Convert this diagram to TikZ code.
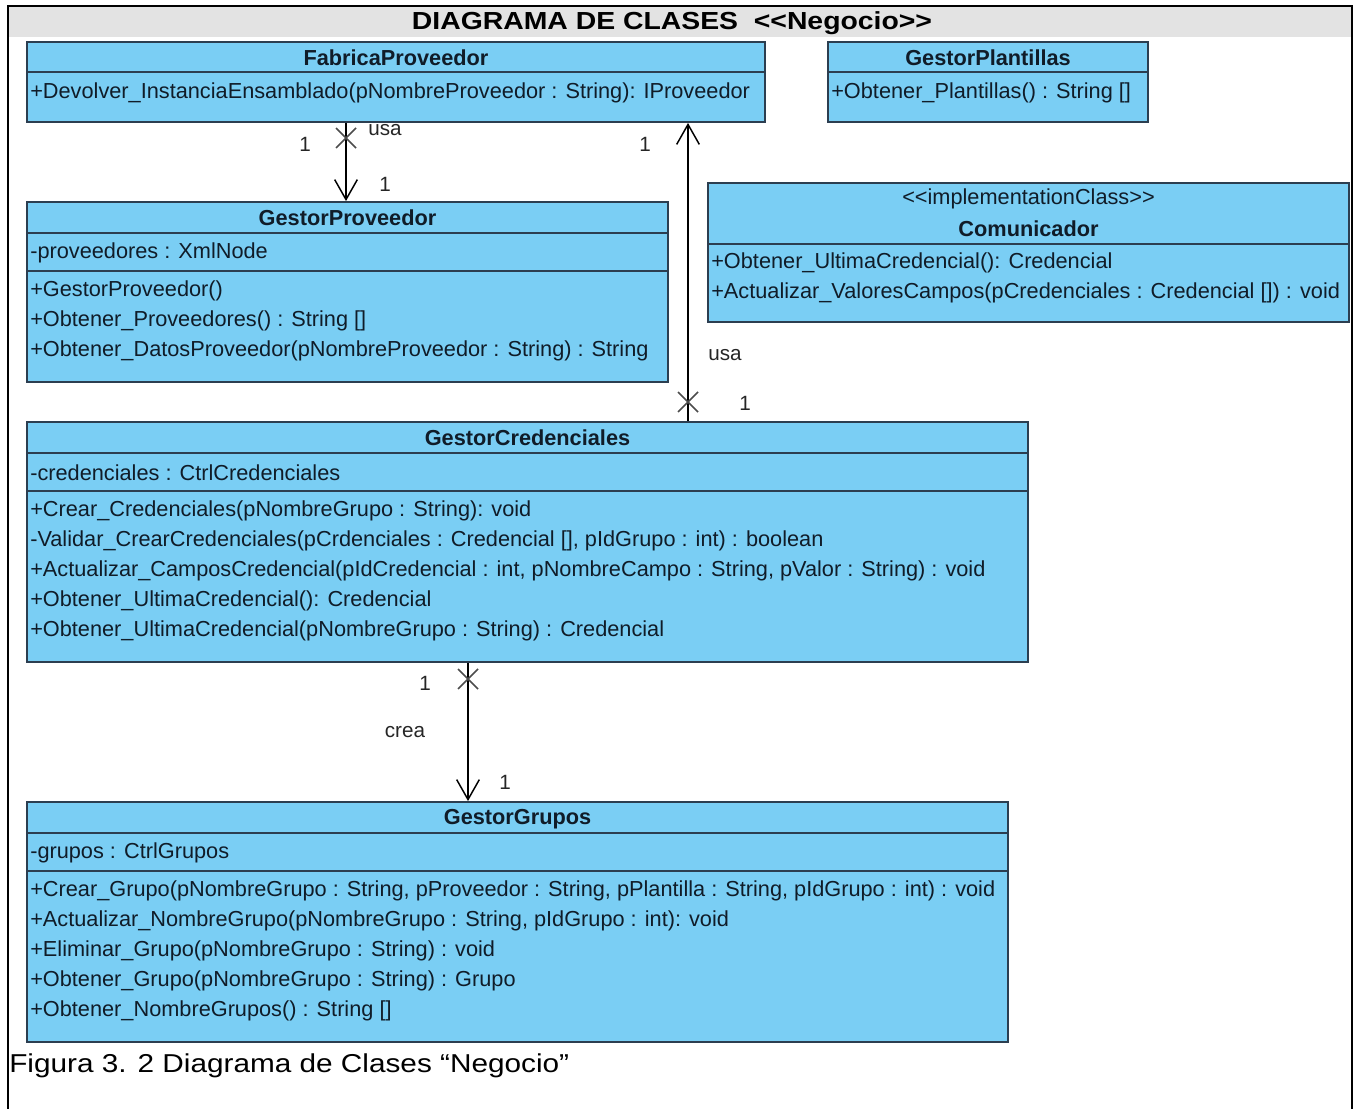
\documentclass[tikz,border=0pt]{standalone}
\usepackage{fontspec}
\newfontfamily\umlfont{Liberation Sans}
\newfontfamily\docfont{Liberation Sans}[FakeStretch=1.15]
\usetikzlibrary{arrows.meta,fit}

\definecolor{clsfill}{HTML}{7ACEF4}
\definecolor{clsline}{HTML}{2C3E50}
\definecolor{band}{HTML}{E3E3E3}
\definecolor{txt}{HTML}{101C28}

\tikzset{
  cls/.style={draw=clsline, line width=1.4pt, fill=clsfill, inner sep=0pt},
  divider/.style={draw=clsline, line width=1.4pt},
  member/.style={anchor=west, inner sep=0pt, text=txt,
    font=\umlfont\fontsize{16.3}{18}\selectfont},
  cname/.style={inner sep=0pt, text=txt,
    font=\umlfont\bfseries\fontsize{16.3}{18}\selectfont},
  stereo/.style={inner sep=0pt, text=txt,
    font=\umlfont\fontsize{16.3}{18}\selectfont},
  mult/.style={inner sep=0pt, text=black!85,
    font=\umlfont\fontsize{15.5}{17}\selectfont},
  assoc/.style={line width=1.1pt, -{Straight Barb[length=15pt,width=17pt,line width=1.1pt]}},
  assocrev/.style={line width=1.1pt, {Straight Barb[length=15pt,width=17pt,line width=1.1pt]}-},
  xmark/.style={line width=1.1pt, draw=black!70},
}

\begin{document}
\begin{tikzpicture}[x=0.75pt, y=-0.75pt]
  \useasboundingbox (0,0) rectangle (1359,1109);

  % page frame and heading band
  \fill[band] (9,7) rectangle (1351,37);
  \draw[line width=1.9pt] (8,1130) -- (8,6) -- (1352,6) -- (1352,1130);
  \node[inner sep=0pt, font=\docfont\bfseries\fontsize{18.5}{20}\selectfont] (title)
    at (672,23) {DIAGRAMA DE CLASES \ <<Negocio>>};

  % ---------- FabricaProveedor ----------
  \node[cls, fit={(27,42) (765,122)}] (fab) {};
  \draw[divider] (fab.west |- 0,72) -- (fab.east |- 0,72);
  \node[cname] (fab-n) at (fab.center |- 0,58) {FabricaProveedor};
  \node[member] (fab-m1) at (30,93)
    {+Devolver\_InstanciaEnsamblado(pNombreProveedor : String): IProveedor};

  % ---------- GestorPlantillas ----------
  \node[cls, fit={(828,42) (1148,122)}] (gpla) {};
  \draw[divider] (gpla.west |- 0,72) -- (gpla.east |- 0,72);
  \node[cname] (gpla-n) at (gpla.center |- 0,58) {GestorPlantillas};
  \node[member] (gpla-m1) at (831,93) {+Obtener\_Plantillas() : String []};

  % ---------- Comunicador ----------
  \node[cls, fit={(708,183) (1349,322)}] (com) {};
  \draw[divider] (com.west |- 0,244) -- (com.east |- 0,244);
  \node[stereo] (com-s) at (com.center |- 0,199) {<<implementationClass>>};
  \node[cname] (com-n) at (com.center |- 0,229) {Comunicador};
  \node[member] (com-m1) at (711,263) {+Obtener\_UltimaCredencial(): Credencial};
  \node[member] (com-m2) at (711,293)
    {+Actualizar\_ValoresCampos(pCredenciales : Credencial []) : void};

  % ---------- GestorProveedor ----------
  \node[cls, fit={(27,202) (668,382)}] (gprov) {};
  \draw[divider] (gprov.west |- 0,233) -- (gprov.east |- 0,233);
  \draw[divider] (gprov.west |- 0,271) -- (gprov.east |- 0,271);
  \node[cname] (gprov-n) at (gprov.center |- 0,218) {GestorProveedor};
  \node[member] (gprov-a1) at (30,253) {-proveedores : XmlNode};
  \node[member] (gprov-m1) at (30,291) {+GestorProveedor()};
  \node[member] (gprov-m2) at (30,321) {+Obtener\_Proveedores() : String []};
  \node[member] (gprov-m3) at (30,351)
    {+Obtener\_DatosProveedor(pNombreProveedor : String) : String};

  % ---------- GestorCredenciales ----------
  \node[cls, fit={(27,422) (1028,662)}] (gcred) {};
  \draw[divider] (gcred.west |- 0,453) -- (gcred.east |- 0,453);
  \draw[divider] (gcred.west |- 0,491) -- (gcred.east |- 0,491);
  \node[cname] (gcred-n) at (gcred.center |- 0,438) {GestorCredenciales};
  \node[member] (gcred-a1) at (30,473) {-credenciales : CtrlCredenciales};
  \node[member] (gcred-m1) at (30,511) {+Crear\_Credenciales(pNombreGrupo : String): void};
  \node[member] (gcred-m2) at (30,541)
    {-Validar\_CrearCredenciales(pCrdenciales : Credencial [], pIdGrupo : int) : boolean};
  \node[member] (gcred-m3) at (30,571)
    {+Actualizar\_CamposCredencial(pIdCredencial : int, pNombreCampo : String, pValor : String) : void};
  \node[member] (gcred-m4) at (30,601) {+Obtener\_UltimaCredencial(): Credencial};
  \node[member] (gcred-m5) at (30,631)
    {+Obtener\_UltimaCredencial(pNombreGrupo : String) : Credencial};

  % ---------- GestorGrupos ----------
  \node[cls, fit={(27,802) (1008,1042)}] (ggru) {};
  \draw[divider] (ggru.west |- 0,833) -- (ggru.east |- 0,833);
  \draw[divider] (ggru.west |- 0,871) -- (ggru.east |- 0,871);
  \node[cname] (ggru-n) at (ggru.center |- 0,819) {GestorGrupos};
  \node[member] (ggru-a1) at (30,853) {-grupos : CtrlGrupos};
  \node[member] (ggru-m1) at (30,891)
    {+Crear\_Grupo(pNombreGrupo : String, pProveedor : String, pPlantilla : String, pIdGrupo : int) : void};
  \node[member] (ggru-m2) at (30,921)
    {+Actualizar\_NombreGrupo(pNombreGrupo : String, pIdGrupo : int): void};
  \node[member] (ggru-m3) at (30,951) {+Eliminar\_Grupo(pNombreGrupo : String) : void};
  \node[member] (ggru-m4) at (30,981) {+Obtener\_Grupo(pNombreGrupo : String) : Grupo};
  \node[member] (ggru-m5) at (30,1011) {+Obtener\_NombreGrupos() : String []};

  % ---------- associations ----------
  % FabricaProveedor -> GestorProveedor (usa)
  \coordinate (c1) at (346,0);
  \draw[assoc] (c1 |- fab.south) -- (c1 |- gprov.north);
  \coordinate (x1) at (346,138);
  \draw[xmark] (x1) ++(-10,-10) -- ++(20,20) ++(-20,0) -- ++(20,-20);
  \node[mult] (l1a) at (305,144) {1};
  \node[mult] (l1b) at (385,130) {usa};
  \node[mult] (l1c) at (385,184) {1};

  % GestorCredenciales -> FabricaProveedor (usa)
  \coordinate (c2) at (688,0);
  \draw[assocrev] (c2 |- fab.south) -- (c2 |- gcred.north);
  \coordinate (x2) at (688,402);
  \draw[xmark] (x2) ++(-10,-10) -- ++(20,20) ++(-20,0) -- ++(20,-20);
  \node[mult] (l2a) at (645,144) {1};
  \node[mult] (l2b) at (725,355) {usa};
  \node[mult] (l2c) at (745,403) {1};

  % GestorCredenciales -> GestorGrupos (crea)
  \coordinate (c3) at (468,0);
  \draw[assoc] (c3 |- gcred.south) -- (c3 |- ggru.north);
  \coordinate (x3) at (468,679);
  \draw[xmark] (x3) ++(-10,-10) -- ++(20,20) ++(-20,0) -- ++(20,-20);
  \node[mult] (l3a) at (425,683) {1};
  \node[mult] (l3b) at (405,732) {crea};
  \node[mult] (l3c) at (505,782) {1};

  % caption
  \node[anchor=west, inner sep=0pt, font=\docfont\fontsize{19.4}{21}\selectfont] (cap)
    at (9,1066) {Figura 3. 2 Diagrama de Clases “Negocio”};
\end{tikzpicture}
\end{document}
